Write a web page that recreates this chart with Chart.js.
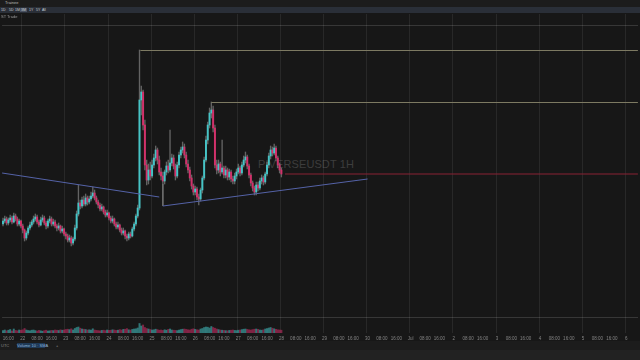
<!DOCTYPE html>
<html>
<head>
<meta charset="utf-8">
<script src="https://cdn.jsdelivr.net/npm/chart.js@4.4.1/dist/chart.umd.min.js"></script>
<style>
    html, body { margin: 0; padding: 0; width: 640px; height: 360px; overflow: hidden; background: #171717; font-family: 'Liberation Sans', Arial, sans-serif; }
    .strip { position: absolute; left: 0; width: 640px; }
    #titleBar { top: 0; height: 7px; background: #1c1c1c; }
    #toolBar { top: 7px; height: 6px; background: #2a2f38; }
    #bottomBar { top: 341px; height: 9px; background: #1c1c1c; }
    #statusBar { top: 350px; height: 10px; background: #222222; }
    .tiny { position: absolute; font-size: 4px; line-height: 4px; color: #b8b8b8; white-space: nowrap; }
    .btn { position: absolute; top: 8px; height: 4px; font-size: 3.5px; line-height: 4px; color: #c9ccd3; padding: 0 1px; }
    #watermark { position: absolute; left: 258px; top: 159px; font-size: 11px; line-height: 11px; color: #3d3d3d; letter-spacing: 0.1px; }
    #chartBox { position: absolute; left: 0; top: 14px; width: 640px; height: 327px; }
</style>
</head>
<body>
<div id="titleBar" class="strip"></div>
<div class="tiny" style="left:5px;top:1px;">Trainee</div>
<div id="toolBar" class="strip"></div>
<div class="btn" style="left:0px;">1D</div>
<div class="btn" style="left:8px;">5D</div>
<div class="btn" style="left:14px;">1M</div>
<div class="btn" style="left:20px;background:#4a5262;">3M</div>
<div class="btn" style="left:28px;">1Y</div>
<div class="btn" style="left:35px;">5Y</div>
<div class="btn" style="left:41px;">All</div>
<div id="watermark">PIVERSEUSDT 1H</div>
<div id="chartBox"><canvas id="candleChart" width="640" height="327"></canvas></div>
<div class="tiny" style="left:1px;top:15px;color:#9a9a9a;">ST Trade</div>
<div id="bottomBar" class="strip"></div>
<div class="tiny" style="left:1px;top:344px;color:#8a8a8a;">UTC</div>
<div class="tiny" style="left:17px;top:343px;height:5px;width:28px;background:#1f3a57;color:#8fb4dc;line-height:5px;">Volume 10 · SMA</div>
<div class="tiny" style="left:56px;top:344px;color:#9a9a9a;">+</div>
<div id="statusBar" class="strip"></div>
<script>
// hourly candles, prices
const dayLabels = ['22', '23', '24', '25', '26', '27', '28', '29', '30', 'Jul', '2', '3', '4', '5', '6'];
const slotCount = 354;   // hours shown on the time axis
const firstDaySlot = 11; // first midnight on the axis

const firstOpen = 0.176;
const closes = [
    0.179, 0.181, 0.177, 0.180, 0.182, 0.178, 0.184, 0.181, 0.176, 0.179,
    0.174, 0.170, 0.162, 0.167, 0.172, 0.175, 0.178, 0.181, 0.183, 0.178,
    0.175, 0.180, 0.182, 0.177, 0.174, 0.179, 0.181, 0.176, 0.178, 0.174,
    0.172, 0.174, 0.169, 0.171, 0.166, 0.164, 0.160, 0.162, 0.157, 0.161,
    0.172, 0.186, 0.197, 0.194, 0.200, 0.196, 0.202, 0.198, 0.201, 0.204,
    0.207, 0.202, 0.198, 0.195, 0.191, 0.193, 0.188, 0.185, 0.187, 0.182,
    0.179, 0.181, 0.176, 0.173, 0.175, 0.170, 0.167, 0.169, 0.164, 0.162,
    0.166, 0.164, 0.171, 0.176, 0.184, 0.192, 0.300, 0.308, 0.275, 0.235,
    0.220, 0.230, 0.224, 0.235, 0.242, 0.250, 0.240, 0.228, 0.224, 0.219,
    0.228, 0.234, 0.230, 0.237, 0.242, 0.234, 0.224, 0.235, 0.245, 0.250,
    0.253, 0.245, 0.236, 0.230, 0.222, 0.214, 0.208, 0.211, 0.203, 0.201,
    0.210, 0.222, 0.240, 0.260, 0.275, 0.287, 0.290, 0.272, 0.235, 0.230,
    0.236, 0.228, 0.232, 0.225, 0.230, 0.223, 0.228, 0.221, 0.219, 0.224,
    0.228, 0.232, 0.227, 0.235, 0.240, 0.243, 0.234, 0.225, 0.217, 0.212,
    0.208, 0.215, 0.212, 0.219, 0.222, 0.218, 0.226, 0.235, 0.244, 0.250,
    0.247, 0.252, 0.242, 0.235, 0.230, 0.226
];
const highs = [
    0.182, 0.184, 0.183, 0.182, 0.185, 0.184, 0.187, 0.186, 0.183, 0.181,
    0.180, 0.176, 0.171, 0.169, 0.174, 0.178, 0.180, 0.184, 0.186, 0.185,
    0.180, 0.183, 0.185, 0.184, 0.179, 0.181, 0.184, 0.183, 0.181, 0.180,
    0.176, 0.177, 0.175, 0.174, 0.172, 0.168, 0.166, 0.165, 0.164, 0.163,
    0.175, 0.189, 0.215, 0.200, 0.203, 0.204, 0.206, 0.204, 0.204, 0.208,
    0.213, 0.210, 0.204, 0.200, 0.197, 0.196, 0.194, 0.190, 0.190, 0.188,
    0.184, 0.184, 0.182, 0.178, 0.178, 0.176, 0.172, 0.172, 0.170, 0.166,
    0.168, 0.168, 0.173, 0.178, 0.186, 0.195, 0.350, 0.314, 0.310, 0.280,
    0.240, 0.236, 0.238, 0.240, 0.246, 0.254, 0.252, 0.244, 0.232, 0.228,
    0.230, 0.238, 0.240, 0.270, 0.246, 0.245, 0.236, 0.238, 0.248, 0.253,
    0.258, 0.256, 0.248, 0.240, 0.233, 0.225, 0.216, 0.214, 0.213, 0.206,
    0.212, 0.224, 0.243, 0.264, 0.278, 0.292, 0.298, 0.294, 0.275, 0.240,
    0.240, 0.238, 0.260, 0.234, 0.234, 0.232, 0.231, 0.230, 0.224, 0.227,
    0.231, 0.236, 0.234, 0.238, 0.244, 0.248, 0.245, 0.236, 0.227, 0.219,
    0.214, 0.218, 0.218, 0.222, 0.225, 0.224, 0.228, 0.238, 0.247, 0.254,
    0.253, 0.256, 0.254, 0.244, 0.237, 0.232
];
const lows = [
    0.174, 0.177, 0.175, 0.175, 0.178, 0.176, 0.177, 0.179, 0.174, 0.174,
    0.172, 0.167, 0.159, 0.160, 0.165, 0.170, 0.173, 0.176, 0.179, 0.176,
    0.173, 0.174, 0.178, 0.175, 0.171, 0.172, 0.177, 0.174, 0.174, 0.172,
    0.169, 0.170, 0.167, 0.167, 0.164, 0.161, 0.158, 0.158, 0.154, 0.155,
    0.159, 0.170, 0.184, 0.191, 0.192, 0.194, 0.194, 0.195, 0.196, 0.199,
    0.202, 0.200, 0.196, 0.192, 0.189, 0.189, 0.186, 0.183, 0.183, 0.180,
    0.177, 0.177, 0.174, 0.171, 0.171, 0.168, 0.165, 0.165, 0.161, 0.159,
    0.160, 0.162, 0.163, 0.169, 0.174, 0.182, 0.190, 0.285, 0.270, 0.230,
    0.215, 0.216, 0.220, 0.222, 0.232, 0.239, 0.236, 0.225, 0.220, 0.216,
    0.216, 0.225, 0.227, 0.228, 0.234, 0.231, 0.220, 0.222, 0.232, 0.242,
    0.247, 0.242, 0.233, 0.227, 0.219, 0.211, 0.205, 0.205, 0.200, 0.195,
    0.199, 0.207, 0.220, 0.238, 0.256, 0.272, 0.282, 0.268, 0.232, 0.226,
    0.227, 0.224, 0.226, 0.222, 0.222, 0.220, 0.220, 0.218, 0.216, 0.216,
    0.221, 0.226, 0.224, 0.225, 0.233, 0.237, 0.231, 0.222, 0.214, 0.209,
    0.205, 0.205, 0.209, 0.210, 0.216, 0.215, 0.216, 0.224, 0.232, 0.241,
    0.244, 0.245, 0.239, 0.232, 0.227, 0.223
];
const volumes = [
    25, 30, 22, 28, 35, 20, 40, 26, 22, 30, 28, 32,
    45, 30, 25, 22, 28, 30, 24, 20, 26, 22, 18, 24, 28, 20, 22, 26, 24, 30, 28, 25, 32, 28, 30, 35, 38, 34, 42, 30,
    45, 55, 60, 48, 40, 38, 35, 30, 32, 28, 42, 30, 26,
    24, 22, 26, 28, 24, 30, 26, 28, 32, 30, 26, 28, 34, 30, 36, 38, 44, 32, 30, 36, 40, 42, 50,
    95, 70, 80, 55, 45,
    40, 35, 30, 32, 38, 34, 28, 30, 26, 32, 28, 36, 40, 30, 28, 26, 24, 30, 34, 38, 40, 36, 32, 30, 38, 42, 36, 32, 30,
    40, 45, 55, 60, 58, 50, 65, 55, 48, 40,
    34, 30, 28, 26, 24, 22, 26, 28, 30, 26, 24, 28, 30, 34, 38, 40, 36, 32, 30, 34, 38, 40, 36, 30, 28, 32, 40, 45, 50, 55, 48, 42, 36, 32, 30, 28
];

// drawings: trend lines and ranges (slot, price)
const trendDown = [{ x: -0.5, y: 0.227 }, { x: 87, y: 0.203 }];
const trendUp = [{ x: 89, y: 0.194 }, { x: 203, y: 0.221 }];
const rangeTick = [{ x: 89, y: 0.216 }, { x: 89, y: 0.194 }];
const rangeHighA = [{ x: 76.5, y: 0.3495 }, { x: 353.5, y: 0.3495 }];
const rangeHighB = [{ x: 116, y: 0.2975 }, { x: 353.5, y: 0.2975 }];
const paneRules = [0.0825, 0.3745];

const UP = '#45c4c6';
const DOWN = '#d3306a';

const opens = closes.map((c, i) => i ? closes[i - 1] : firstOpen);
const isUp = closes.map((c, i) => c >= opens[i]);
const lastClose = closes[closes.length - 1];
const priceLine = [{ x: closes.length + 1, y: lastClose }, { x: 353.5, y: lastClose }];

const timeLabels = [];
for (let i = 0; i < slotCount; i++) {
    const h = ((i - firstDaySlot) % 24 + 24) % 24;
    timeLabels.push(h === 0 ? dayLabels[(i - firstDaySlot) / 24] : String(h).padStart(2, '0') + ':00');
}

function lineSet(points, color, order) {
    return {
        type: 'line',
        data: points,
        xAxisID: 'xl',
        yAxisID: 'y',
        borderColor: color,
        borderWidth: 1,
        pointRadius: 0,
        tension: 0,
        order: order
    };
}

Chart.defaults.font.family = "'Liberation Sans', Arial, sans-serif";

new Chart(document.getElementById('candleChart').getContext('2d'), {
    type: 'bar',
    data: {
        labels: timeLabels,
        datasets: [
            {
                label: 'Volume',
                data: volumes,
                yAxisID: 'yv',
                backgroundColor: isUp.map(u => u ? 'rgba(69,196,198,0.55)' : 'rgba(211,48,106,0.55)'),
                barThickness: 1.3,
                grouped: false,
                order: 5
            },
            {
                label: 'Wick',
                data: lows.map((l, i) => [l, highs[i]]),
                backgroundColor: 'rgba(150,150,150,0.6)',
                barThickness: 0.7,
                grouped: false,
                order: 4
            },
            {
                label: 'Body',
                data: closes.map((c, i) => [opens[i], c]),
                backgroundColor: isUp.map(u => u ? UP : DOWN),
                barThickness: 1.3,
                grouped: false,
                order: 3
            },
            lineSet(trendDown, '#5563a8', 1),
            lineSet(trendUp, '#5563a8', 1),
            lineSet(rangeTick, '#6f6f6f', 1),
            lineSet(rangeHighA, '#7d7a62', 1),
            lineSet(rangeHighB, '#7d7a62', 1),
            lineSet(priceLine, '#8a2334', 2)
        ]
    },
    options: {
        responsive: false,
        animation: false,
        devicePixelRatio: 1,
        layout: { padding: 0 },
        plugins: { legend: { display: false }, tooltip: { enabled: false } },
        scales: {
            x: {
                type: 'category',
                offset: true,
                border: { display: false },
                grid: {
                    offset: true,
                    drawTicks: false,
                    lineWidth: 1,
                    color: ctx => ((ctx.index - firstDaySlot) % 24 === 0 ? 'rgba(255,255,255,0.075)' : 'rgba(0,0,0,0)')
                },
                ticks: {
                    autoSkip: false,
                    maxRotation: 0,
                    minRotation: 0,
                    padding: 3,
                    color: '#858585',
                    font: { size: 4.5 },
                    callback: (value, index) => {
                        const h = ((index - firstDaySlot) % 24 + 24) % 24;
                        return h % 8 === 0 ? timeLabels[index] : '';
                    }
                },
                afterFit: scale => { scale.height = 8; }
            },
            xl: {
                type: 'linear',
                display: false,
                offset: false,
                grid: { offset: false },
                bounds: 'ticks',
                min: -0.5,
                max: slotCount - 0.5
            },
            y: {
                position: 'right',
                min: 0.067,
                max: 0.386,
                border: { display: false },
                grid: { drawTicks: false, color: 'rgba(255,255,255,0.14)' },
                ticks: { display: false },
                afterBuildTicks: scale => { scale.ticks = paneRules.map(v => ({ value: v })); },
                afterFit: scale => { scale.width = 0; }
            },
            yv: {
                display: false,
                min: 0,
                max: 3190
            }
        }
    }
});
</script>
</body>
</html>
